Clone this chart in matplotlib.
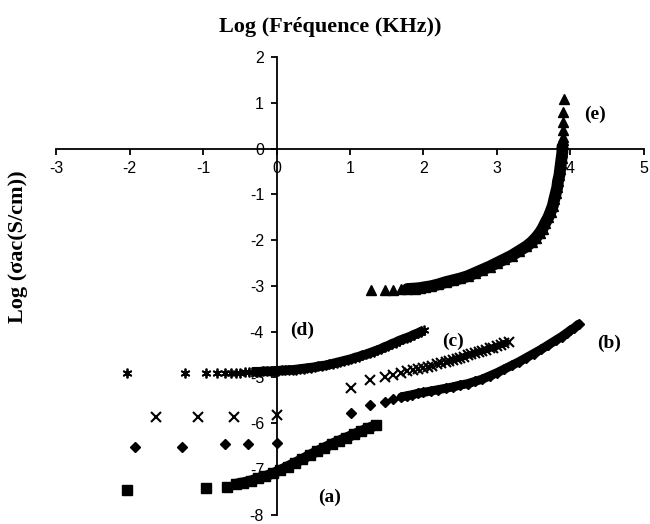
import matplotlib
matplotlib.use("Agg")
import matplotlib.pyplot as plt

# (a) squares
xa = [-2.03, -0.96, -0.68, -0.55, -0.45, -0.35, -0.25, -0.15, -0.05, 0.05, 0.15,
      0.25, 0.35, 0.45, 0.55, 0.65, 0.75, 0.85, 0.95, 1.05, 1.15, 1.25, 1.35]
ya = [-7.46, -7.42, -7.40, -7.33, -7.30, -7.26, -7.21, -7.16, -7.10, -7.03, -6.95,
      -6.87, -6.79, -6.70, -6.62, -6.54, -6.46, -6.39, -6.32, -6.25, -6.18, -6.11, -6.05]

# (b) diamonds
xb = [-1.92, -1.28, -0.70, -0.39, 0.00, 1.02, 1.27, 1.47, 1.58, 1.70, 1.78, 1.85, 1.92,
      2.00, 2.10, 2.20, 2.30, 2.40, 2.50, 2.60, 2.70, 2.80, 2.90, 3.00, 3.10, 3.20,
      3.30, 3.40, 3.50, 3.60, 3.70, 3.80, 3.88, 3.95, 4.00, 4.05, 4.11]
yb = [-6.53, -6.53, -6.46, -6.46, -6.44, -5.77, -5.60, -5.53, -5.47, -5.43, -5.40, -5.38, -5.35,
      -5.33, -5.30, -5.27, -5.24, -5.21, -5.17, -5.14, -5.09, -5.04, -4.97, -4.90, -4.82, -4.74,
      -4.66, -4.57, -4.48, -4.39, -4.29, -4.19, -4.11, -4.03, -3.97, -3.92, -3.84]

# (c) crosses
xc = [-1.64, -1.07, -0.58, 0.00, 1.02, 1.27, 1.47, 1.58, 1.69, 1.78, 1.86, 1.93, 2.00,
      2.06, 2.12, 2.18, 2.24, 2.30, 2.35, 2.40, 2.45, 2.50, 2.55, 2.60, 2.65, 2.70,
      2.75, 2.80, 2.85, 2.90, 2.95, 3.00, 3.05, 3.10, 3.16]
yc = [-5.86, -5.86, -5.86, -5.82, -5.23, -5.05, -4.99, -4.95, -4.90, -4.87, -4.84, -4.82, -4.80,
      -4.78, -4.75, -4.72, -4.69, -4.67, -4.64, -4.62, -4.60, -4.57, -4.55, -4.52, -4.50, -4.47,
      -4.45, -4.42, -4.40, -4.37, -4.35, -4.32, -4.29, -4.26, -4.23]

# (d) stars
xd = [-2.03, -1.24, -0.96, -0.81, -0.70, -0.62, -0.55, -0.49, -0.43, -0.38, -0.33, -0.28,
      -0.23, -0.18, -0.13, -0.08, -0.03, 0.02, 0.07, 0.12, 0.17, 0.22, 0.27, 0.32, 0.37,
      0.42, 0.47, 0.52, 0.57, 0.62, 0.67, 0.72, 0.77, 0.82, 0.87, 0.92, 0.97, 1.02, 1.07,
      1.12, 1.17, 1.22, 1.27, 1.32, 1.37, 1.42, 1.47, 1.52, 1.57, 1.62, 1.67, 1.72, 1.77,
      1.82, 1.87, 1.92, 1.97, 2.01]
yd = [-4.90, -4.90, -4.90, -4.90, -4.90, -4.90, -4.90, -4.90, -4.89, -4.89, -4.88, -4.88,
      -4.88, -4.87, -4.87, -4.87, -4.86, -4.86, -4.85, -4.85, -4.84, -4.84, -4.83, -4.82, -4.81,
      -4.80, -4.79, -4.78, -4.76, -4.75, -4.74, -4.72, -4.70, -4.68, -4.66, -4.64, -4.62, -4.60, -4.57,
      -4.55, -4.52, -4.50, -4.47, -4.44, -4.41, -4.38, -4.34, -4.31, -4.27, -4.24, -4.20, -4.17, -4.14,
      -4.11, -4.07, -4.04, -4.00, -3.97]

# (e) triangles
xe = [1.28, 1.47, 1.58, 1.69, 1.78, 1.88, 1.95, 2.02, 2.10, 2.20, 2.30, 2.40, 2.50, 2.60,
      2.70, 2.80, 2.90, 3.00, 3.10, 3.20, 3.30, 3.40, 3.47, 3.53, 3.58, 3.62, 3.66, 3.70,
      3.73, 3.76, 3.78, 3.80, 3.82, 3.83, 3.85, 3.86, 3.87, 3.88, 3.89, 3.89, 3.90, 3.90,
      3.90, 3.90, 3.90, 3.90, 3.91]
ye = [-3.10, -3.10, -3.10, -3.08, -3.07, -3.06, -3.05, -3.03, -3.01, -2.97, -2.92, -2.88, -2.84, -2.79,
      -2.72, -2.65, -2.58, -2.50, -2.42, -2.34, -2.24, -2.14, -2.05, -1.95, -1.85, -1.75, -1.62, -1.50,
      -1.38, -1.25, -1.11, -0.98, -0.85, -0.72, -0.58, -0.45, -0.32, -0.20, -0.08, 0.04, 0.10, 0.18,
      0.26, 0.41, 0.59, 0.80, 1.08]

xticks = [-3, -2, -1, 0, 1, 2, 3, 4, 5]
yticks = [-8, -7, -6, -5, -4, -3, -2, -1, 0, 1, 2]
labels = ["(a)", "(b)", "(c)", "(d)", "(e)"]
label_x = [0.72, 4.53, 2.40, 0.35, 4.33]
label_y = [-7.62, -4.25, -4.21, -3.98, 0.74]

fig = plt.figure(figsize=(6.5, 5.24), dpi=100)
ax = fig.add_axes([0.0862, 0.018, 0.9045, 0.8732])
ax.set_xlim(-3, 5)
ax.set_ylim(-8, 2)

K = "black"
# dense (overlapping) stretches of each series drawn as a solid band through the points
ax.plot(xa[3:], ya[3:], "-", lw=7.5, color=K, solid_capstyle="butt")
ax.plot(xb[9:], yb[9:], "-", lw=6.5, color=K, solid_capstyle="round")
ax.plot(xc[19:], yc[19:], "-", lw=5.0, color=K, solid_capstyle="butt")
ax.plot(xd[10:], yd[10:], "-", lw=7.0, color=K, solid_capstyle="butt")
ax.plot(xe[4:40], ye[4:40], "-", lw=8.5, color=K, solid_capstyle="round")

ax.plot(xa, ya, ls="none", marker="s", ms=7, color=K)
ax.plot(xb, yb, ls="none", marker="D", ms=5.5, color=K)
ax.plot(xc, yc, ls="none", marker="x", ms=6.5, mew=1.5, color=K)
ax.plot(xd, yd, ls="none", marker=(6, 2, 0), ms=7, mew=1.3, color=K)
ax.plot(xe, ye, ls="none", marker="^", ms=7, color=K)

for t, lx, ly in zip(labels, label_x, label_y):
    ax.text(lx, ly, t, ha="center", va="center", fontsize=14,
            fontfamily="Liberation Serif", fontweight="bold")

ax.spines["left"].set_position(("data", 0))
ax.spines["bottom"].set_position(("data", 0))
ax.spines["top"].set_visible(False)
ax.spines["right"].set_visible(False)
for s in ("left", "bottom"):
    ax.spines[s].set_linewidth(1.3)

ax.set_xticks(xticks)
ax.set_yticks(yticks)
ax.set_xticklabels([str(v) for v in xticks])
ax.set_yticklabels([str(v) for v in yticks])
ax.tick_params(direction="out", length=4, width=1.3, labelsize=11.5, pad=5)
for lab in ax.get_xticklabels() + ax.get_yticklabels():
    lab.set_fontfamily("Liberation Sans")

fig.text(0.508, 0.948, "Log (Fréquence (KHz))", ha="center", va="center",
         fontsize=16, fontfamily="Liberation Serif", fontweight="bold")
fig.text(0.028, 0.53, "Log (σac(S/cm))", ha="center", va="center", rotation=90,
         fontsize=16, fontfamily="Liberation Serif", fontweight="bold")

fig.savefig("out.png", dpi=100)
